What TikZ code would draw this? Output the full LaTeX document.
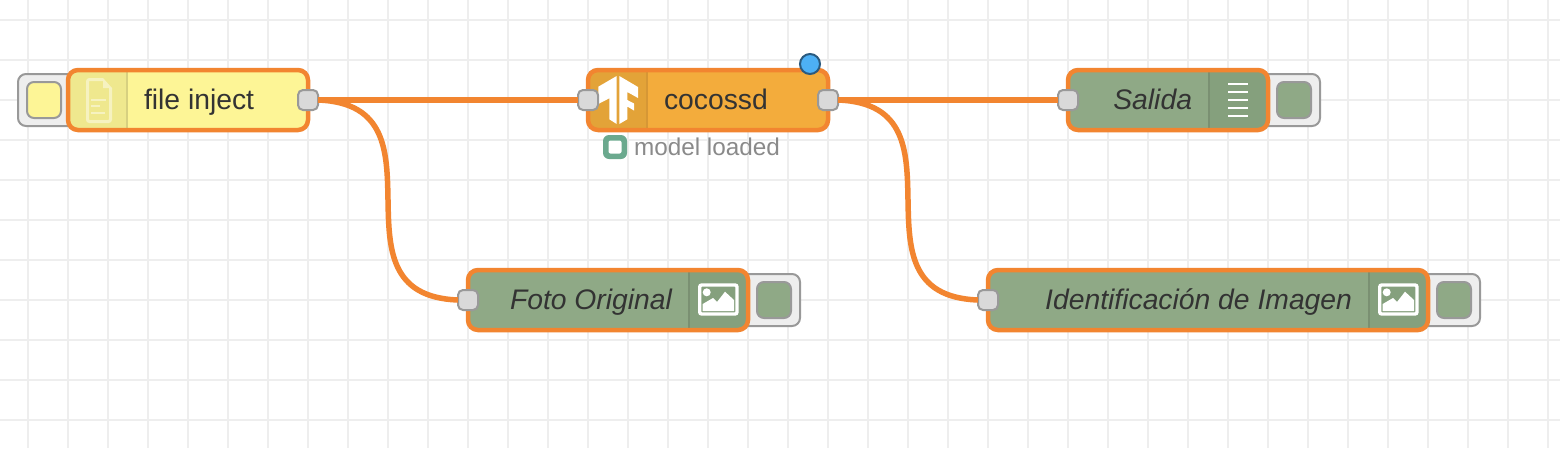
\documentclass[tikz,border=0pt]{standalone}
\usepackage{fontspec}
\setmainfont{Liberation Sans}
\definecolor{gridColor}{HTML}{EEEEEE}
\definecolor{wireColor}{HTML}{F28530}
\definecolor{portColor}{HTML}{D9D9D9}
\definecolor{edgeColor}{HTML}{999999}
\definecolor{textColor}{HTML}{333333}
\definecolor{fileColor}{HTML}{FDF596}
\definecolor{fileTab}{HTML}{EFE88E}
\definecolor{modelColor}{HTML}{F3AC3C}
\definecolor{modelTab}{HTML}{E3A338}
\definecolor{outColor}{HTML}{8FA986}
\definecolor{outTab}{HTML}{85A07D}
\definecolor{dirtyColor}{HTML}{4DB0F5}
\definecolor{dirtyEdge}{HTML}{2A5A7F}
\definecolor{statusColor}{HTML}{6BA98E}
\tikzset{
  gridline/.style={draw=gridColor,line width=2pt},
  flowbox/.style={draw=wireColor,line width=4.5pt,rounded corners=10pt,minimum height=60pt,inner sep=0pt,outer sep=0pt},
  portbox/.style={draw=edgeColor,fill=portColor,line width=2pt,rounded corners=5pt,minimum width=20pt,minimum height=20pt,inner sep=0pt,outer sep=0pt},
  tabbox/.style={draw=edgeColor,fill=gridColor,line width=2pt,rounded corners=8pt,minimum height=52pt,inner sep=0pt,outer sep=0pt},
  btnbox/.style={draw=edgeColor,line width=2pt,rounded corners=7pt,minimum width=34pt,minimum height=36pt,inner sep=0pt,outer sep=0pt},
  wire/.style={draw=wireColor,line width=5.5pt},
  flowlabel/.style={text=textColor,inner sep=0pt,outer sep=0pt,font=\fontsize{28.3}{32}\selectfont},
  statuslabel/.style={text=edgeColor!90!black,inner sep=0pt,outer sep=0pt,font=\fontsize{24.3}{28}\selectfont},
  sepline/.style={line width=1.5pt}
}
\begin{document}
\begin{tikzpicture}[x=1pt,y=-1pt]
\useasboundingbox (0,0) rectangle (1560,448);
\fill[white] (0,0) rectangle (1560,448);
% grid
\foreach \gx in {28,68,...,1548} \draw[gridline] (\gx,0) -- (\gx,448);
\foreach \gy in {20,60,...,420} \draw[gridline] (0,\gy) -- (1560,\gy);

% buttons
\node[tabbox,minimum width=64pt] (injecttab) at (50,100) {};
\node[btnbox,fill=fileColor] (injectbtn) at (44,100) {};
\node[tabbox,minimum width=64pt] (salidatab) at (1288,100) {};
\node[btnbox,fill=outColor] (salidabtn) at (1294,100) {};
\node[tabbox,minimum width=64pt] (fototab) at (768,300) {};
\node[btnbox,fill=outColor] (fotobtn) at (774,300) {};
\node[tabbox,minimum width=64pt] (identab) at (1448,300) {};
\node[btnbox,fill=outColor] (idenbtn) at (1454,300) {};

% node bodies
\path[fill=fileColor,rounded corners=10pt] (68,70) rectangle (308,130);
\path[fill=modelColor,rounded corners=10pt] (588,70) rectangle (828,130);
\path[fill=outColor,rounded corners=10pt] (1068,70) rectangle (1268,130);
\path[fill=outColor,rounded corners=10pt] (468,270) rectangle (748,330);
\path[fill=outColor,rounded corners=10pt] (988,270) rectangle (1428,330);
\begin{scope}
\clip[rounded corners=10pt] (68,70) rectangle (308,130);
\fill[fileTab] (68,70) rectangle (127,130);
\draw[sepline,draw=fileColor!85!black] (127,70) -- (127,130);
\end{scope}
\begin{scope}
\clip[rounded corners=10pt] (588,70) rectangle (828,130);
\fill[modelTab] (588,70) rectangle (647,130);
\draw[sepline,draw=modelColor!88!black] (647,70) -- (647,130);
\end{scope}
\begin{scope}
\clip[rounded corners=10pt] (1068,70) rectangle (1268,130);
\fill[outTab] (1209,70) rectangle (1268,130);
\draw[sepline,draw=outColor!85!black] (1209,70) -- (1209,130);
\end{scope}
\begin{scope}
\clip[rounded corners=10pt] (468,270) rectangle (748,330);
\fill[outTab] (689,270) rectangle (748,330);
\draw[sepline,draw=outColor!85!black] (689,270) -- (689,330);
\end{scope}
\begin{scope}
\clip[rounded corners=10pt] (988,270) rectangle (1428,330);
\fill[outTab] (1369,270) rectangle (1428,330);
\draw[sepline,draw=outColor!85!black] (1369,270) -- (1369,330);
\end{scope}

% icons
\begin{scope}[white,opacity=0.45]
\draw[line width=3pt,rounded corners=2pt] (103,79.5) -- (87.5,79.5) -- (87.5,121.5) -- (110.5,121.5) -- (110.5,88);
\fill (103,78) -- (112,88) -- (103,88) -- cycle;
\draw[line width=2pt] (91,100) -- (106,100) (91,106) -- (100,106) (91,112.5) -- (105,112.5);
\end{scope}
\fill[white] (598.3,86.7) -- (616.7,76) -- (616.7,124) -- (609.3,119.3) -- (609.3,98.3) -- (598.3,104) -- cycle;
\fill[white] (619.3,76) -- (638,87) -- (638,98) -- (627.3,92) -- (627.3,100) -- (634,103.5) -- (634,110.5) -- (627.3,106.5) -- (627.3,119.3) -- (619.3,124) -- cycle;
\foreach \ly in {84,92,...,116} \draw[white,line width=2.7pt] (1228,\ly) -- (1248,\ly);
\foreach \ix/\iy in {698/283,1378/283} {
  \begin{scope}[shift={(\ix,\iy)}]
  \draw[white,line width=3.4pt,rounded corners=2pt] (1.7,2) rectangle (39,31);
  \fill[white] (8.7,9.3) circle (4);
  \fill[white] (4.7,28) -- (4.7,21) -- (15,15) -- (19,19) -- (27,8.7) -- (36,17) -- (36,28) -- cycle;
  \end{scope}
}

% outlines
\node[flowbox,minimum width=240pt] (fileinject) at (188,100) {};
\node[flowbox,minimum width=240pt] (cocossd) at (708,100) {};
\node[flowbox,minimum width=200pt] (salida) at (1168,100) {};
\node[flowbox,minimum width=280pt] (foto) at (608,300) {};
\node[flowbox,minimum width=440pt] (iden) at (1208,300) {};

% ports
\node[portbox] (fileout) at (308,100) {};
\node[portbox] (cocoin) at (588,100) {};
\node[portbox] (cocoout) at (828,100) {};
\node[portbox] (salidain) at (1068,100) {};
\node[portbox] (fotoin) at (468,300) {};
\node[portbox] (idenin) at (988,300) {};

% wires
\draw[wire] (fileout.east) -- (cocoin.west);
\draw[wire] (cocoout.east) -- (salidain.west);
\draw[wire] (fileout.east) .. controls +(136.5,5) and +(-136.5,-5) .. (fotoin.west);
\draw[wire] (cocoout.east) .. controls +(136.5,5) and +(-136.5,-5) .. (idenin.west);

% status
\node[circle,draw=dirtyEdge,fill=dirtyColor,line width=2pt,minimum size=20pt,inner sep=0pt] (dirty) at (810,64) {};
\node[fill=statusColor,rounded corners=6pt,minimum size=24pt,inner sep=0pt] (statusdot) at (615,147) {};
\node[fill=white,rounded corners=2pt,minimum size=13pt,inner sep=0pt] (statuscore) at (615,147) {};

% labels
\node[flowlabel,anchor=base west] (filetext) at (144,109) {file inject};
\node[flowlabel,anchor=base west] (cocotext) at (664,109) {cocossd};
\node[flowlabel,anchor=base east] (salidatext) at (1192,109) {\itshape Salida};
\node[flowlabel,anchor=base east] (fototext) at (672,309) {\itshape Foto Original};
\node[flowlabel,anchor=base east] (identext) at (1352,309) {\itshape Identificación de Imagen};
\node[statuslabel,anchor=base west] (statustext) at (634,155) {model loaded};
\end{tikzpicture}
\end{document}
